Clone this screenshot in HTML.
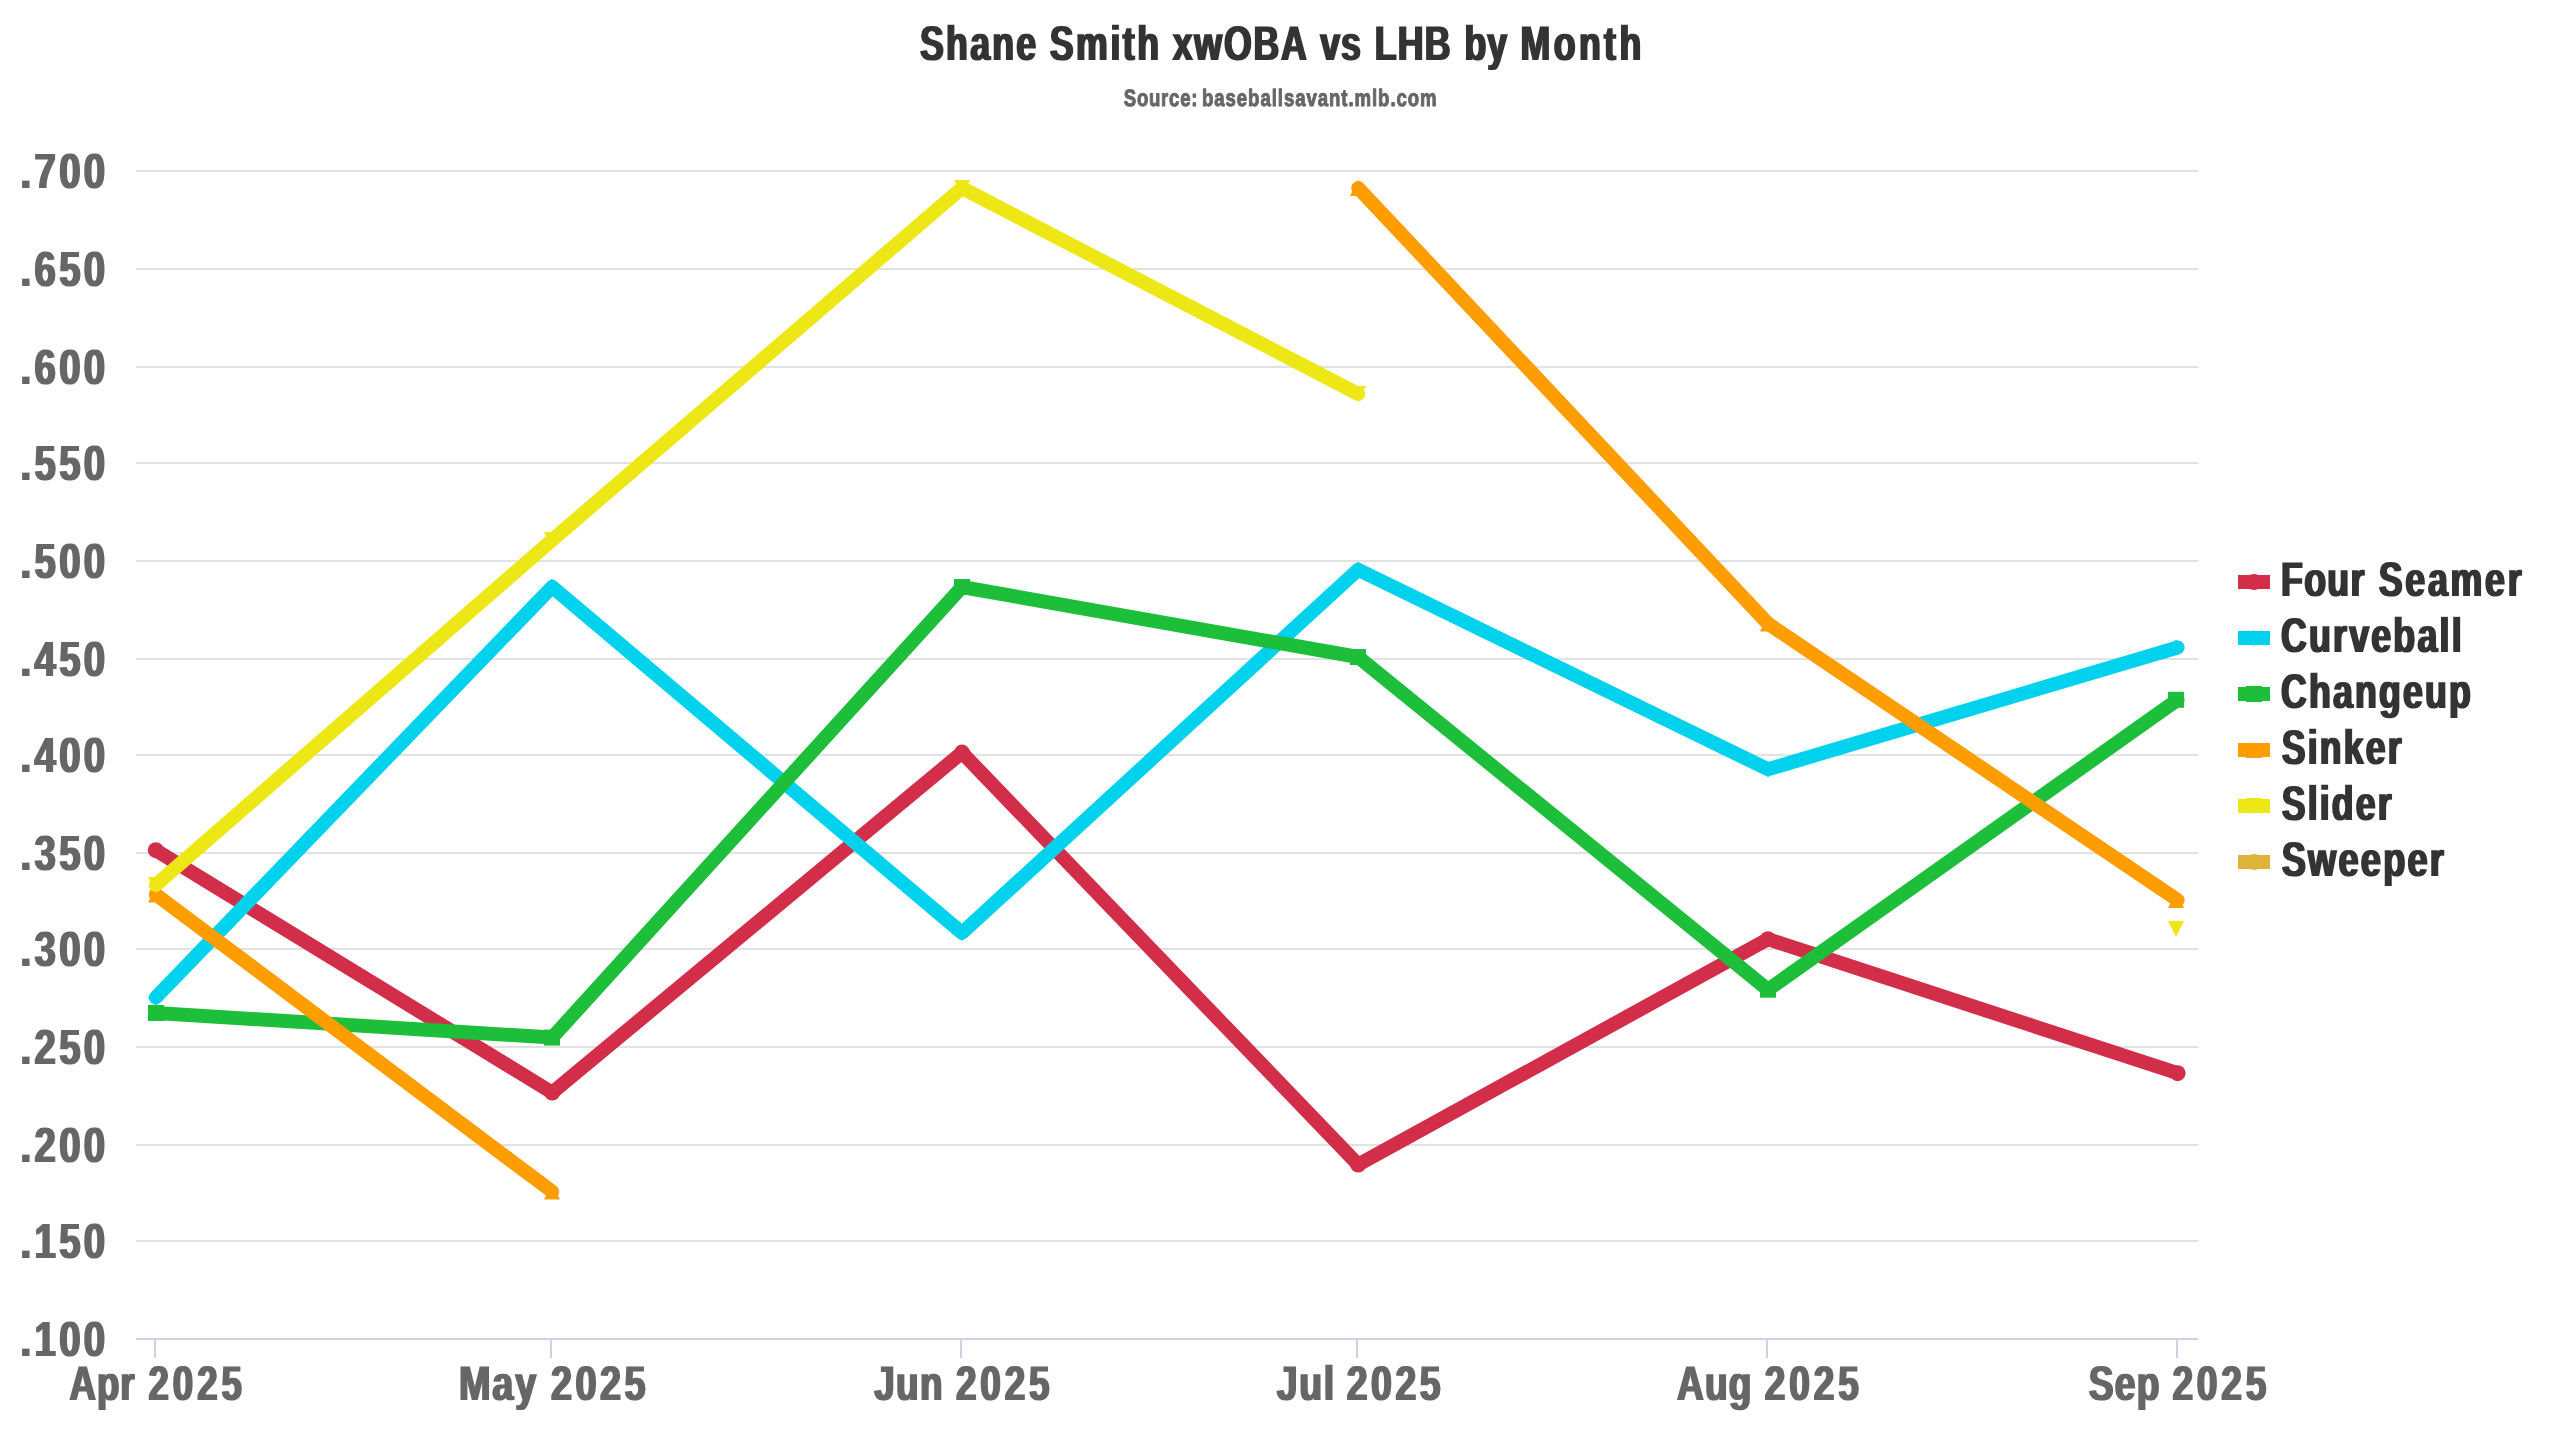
<!DOCTYPE html>
<html lang="en"><head><meta charset="utf-8"><title>Shane Smith xwOBA vs LHB by Month</title>
<style>html,body{margin:0;padding:0;background:#fff}body{width:2560px;height:1440px;overflow:hidden}svg{display:block}text{font-family:"Liberation Sans",sans-serif;font-weight:700;font-kerning:none;white-space:pre;text-rendering:geometricPrecision}</style>
</head><body>
<svg width="2560" height="1440" viewBox="0 0 2560 1440">
<defs><filter id="bx" x="-5%" y="-5%" width="110%" height="110%" color-interpolation-filters="sRGB"><feMorphology operator="dilate" radius="1 0"/></filter></defs>
<rect width="2560" height="1440" fill="#ffffff"/>
<g stroke="#e2e2e2" stroke-width="2" fill="none">
<path d="M136 171H2198"/>
<path d="M136 269H2198"/>
<path d="M136 367H2198"/>
<path d="M136 463H2198"/>
<path d="M136 561H2198"/>
<path d="M136 659H2198"/>
<path d="M136 755H2198"/>
<path d="M136 853H2198"/>
<path d="M136 949H2198"/>
<path d="M136 1047H2198"/>
<path d="M136 1145H2198"/>
<path d="M136 1241H2198"/>
</g>
<g stroke="#cbd3e5" stroke-width="2" fill="none">
<path d="M136 1339H2198"/>
<path d="M155 1339V1358"/>
<path d="M551 1339V1358"/>
<path d="M961 1339V1358"/>
<path d="M1357 1339V1358"/>
<path d="M1767 1339V1358"/>
<path d="M2177 1339V1358"/>
</g>
<g>
<path d="M155.8 850.2 L552.2 1092.6 L962.0 752.6 L1358.2 1164.6 L1768.0 939.2 L2177.6 1073.2" fill="none" stroke="#d22d49" stroke-width="14" stroke-linejoin="round" stroke-linecap="round"/>
<circle cx="155.8" cy="850.2" r="8" fill="#d22d49"/>
<circle cx="552.2" cy="1092.6" r="8" fill="#d22d49"/>
<circle cx="962.0" cy="752.6" r="8" fill="#d22d49"/>
<circle cx="1358.2" cy="1164.6" r="8" fill="#d22d49"/>
<circle cx="1768.0" cy="939.2" r="8" fill="#d22d49"/>
<circle cx="2177.6" cy="1073.2" r="8" fill="#d22d49"/>
</g>
<g>
<path d="M155.8 997.5 L552.2 586.8 L962.0 932.9 L1358.2 569.7 L1768.0 769.3 L2177.6 647.5" fill="none" stroke="#00d1ed" stroke-width="14" stroke-linejoin="round" stroke-linecap="round"/>
<path d="M156 989.5L164 997.5L156 1005.5L148 997.5Z" fill="#00d1ed"/>
<path d="M552 578.8L560 586.8L552 594.8L544 586.8Z" fill="#00d1ed"/>
<path d="M962 924.9L970 932.9L962 940.9L954 932.9Z" fill="#00d1ed"/>
<path d="M1358 561.7L1366 569.7L1358 577.7L1350 569.7Z" fill="#00d1ed"/>
<path d="M1768 761.3L1776 769.3L1768 777.3L1760 769.3Z" fill="#00d1ed"/>
<path d="M2176 639.5L2184 647.5L2176 655.5L2168 647.5Z" fill="#00d1ed"/>
</g>
<g>
<path d="M155.8 1013 L552.2 1037.6 L962.0 587 L1358.2 657 L1768.0 989.7 L2177.6 699.8" fill="none" stroke="#1dbe3a" stroke-width="14" stroke-linejoin="round" stroke-linecap="round"/>
<rect x="148" y="1005.0" width="16" height="16" fill="#1dbe3a"/>
<rect x="544" y="1029.6" width="16" height="16" fill="#1dbe3a"/>
<rect x="954" y="579.0" width="16" height="16" fill="#1dbe3a"/>
<rect x="1350" y="649.0" width="16" height="16" fill="#1dbe3a"/>
<rect x="1760" y="981.7" width="16" height="16" fill="#1dbe3a"/>
<rect x="2168" y="691.8" width="16" height="16" fill="#1dbe3a"/>
</g>
<g>
<path d="M155.8 894.5 L552.2 1191.5 M1358.2 188 L1768.0 623.6 L2177.6 900" fill="none" stroke="#fe9d00" stroke-width="14" stroke-linejoin="round" stroke-linecap="round"/>
<path d="M156 886.5L164 902.5L148 902.5Z" fill="#fe9d00"/>
<path d="M552 1183.5L560 1199.5L544 1199.5Z" fill="#fe9d00"/>
<path d="M1358 180L1366 196L1350 196Z" fill="#fe9d00"/>
<path d="M1768 615.6L1776 631.6L1760 631.6Z" fill="#fe9d00"/>
<path d="M2176 892L2184 908L2168 908Z" fill="#fe9d00"/>
</g>
<g>
<path d="M155.8 885 L552.2 540 L962.0 188 L1358.2 394 M2177.6 929.1" fill="none" stroke="#eee716" stroke-width="14" stroke-linejoin="round" stroke-linecap="round"/>
<path d="M148 877L164 877L156 893Z" fill="#eee716"/>
<path d="M544 532L560 532L552 548Z" fill="#eee716"/>
<path d="M954 180L970 180L962 196Z" fill="#eee716"/>
<path d="M1350 386L1366 386L1358 402Z" fill="#eee716"/>
<path d="M2168 921.1L2184 921.1L2176 937.1Z" fill="#eee716"/>
</g>
<g>
</g>
<rect x="2238" y="575" width="32" height="14" fill="#d22d49"/>
<circle cx="2254" cy="582" r="8" fill="#d22d49"/>
<rect x="2238" y="631" width="32" height="14" fill="#00d1ed"/>
<path d="M2254 630L2262 638L2254 646L2246 638Z" fill="#00d1ed"/>
<rect x="2238" y="687" width="32" height="14" fill="#1dbe3a"/>
<rect x="2246" y="686.0" width="16" height="16" fill="#1dbe3a"/>
<rect x="2238" y="743" width="32" height="14" fill="#fe9d00"/>
<path d="M2254 742L2262 758L2246 758Z" fill="#fe9d00"/>
<rect x="2238" y="799" width="32" height="14" fill="#eee716"/>
<path d="M2246 798L2262 798L2254 814Z" fill="#eee716"/>
<rect x="2238" y="855" width="32" height="14" fill="#ddb33a"/>
<circle cx="2254" cy="862" r="8" fill="#ddb33a"/>
<g filter="url(#bx)">
<text transform="translate(2281.01 595.50) scale(0.7367 1)" font-size="48.55" fill="#333333"><tspan x="0.00" letter-spacing="1.753">Four </tspan><tspan x="132.57" letter-spacing="3.726">Seamer</tspan></text>
<text transform="translate(2280.93 651.50) scale(0.7372 1)" font-size="48.55" fill="#333333"><tspan x="0.00" letter-spacing="2.984">Curveball</tspan></text>
<text transform="translate(2280.94 707.50) scale(0.7349 1)" font-size="48.55" fill="#333333"><tspan x="0.00" letter-spacing="2.993">Changeup</tspan></text>
<text transform="translate(2281.78 763.50) scale(0.7328 1)" font-size="48.55" fill="#333333"><tspan x="0.00" letter-spacing="3.002">Sinker</tspan></text>
<text transform="translate(2281.78 819.50) scale(0.7321 1)" font-size="48.55" fill="#333333"><tspan x="0.00" letter-spacing="3.005">Slider</tspan></text>
<text transform="translate(2281.76 875.50) scale(0.7461 1)" font-size="48.55" fill="#333333"><tspan x="0.00" letter-spacing="2.949">Sweeper</tspan></text>
<text transform="translate(919.97 59.70) scale(0.7335 1)" font-size="48.69" fill="#333333"><tspan x="0.00" letter-spacing="3.091">Shane </tspan><tspan x="176.90" letter-spacing="3.471">Smith </tspan><tspan x="344.50" letter-spacing="2.447">xwOBA </tspan><tspan x="545.74" letter-spacing="1.061">vs </tspan><tspan x="619.98" letter-spacing="1.575">LHB </tspan><tspan x="742.46" letter-spacing="1.182">by </tspan><tspan x="818.76" letter-spacing="4.639">Month</tspan></text>
<text transform="translate(20.40 188.00) scale(0.7753 1)" font-size="49.42" fill="#666666"><tspan x="0.00" letter-spacing="4.385">.700</tspan></text>
<text transform="translate(20.40 286.00) scale(0.7753 1)" font-size="49.42" fill="#666666"><tspan x="0.00" letter-spacing="4.385">.650</tspan></text>
<text transform="translate(20.40 384.00) scale(0.7753 1)" font-size="49.42" fill="#666666"><tspan x="0.00" letter-spacing="4.385">.600</tspan></text>
<text transform="translate(20.40 480.00) scale(0.7753 1)" font-size="49.42" fill="#666666"><tspan x="0.00" letter-spacing="4.385">.550</tspan></text>
<text transform="translate(20.40 578.00) scale(0.7753 1)" font-size="49.42" fill="#666666"><tspan x="0.00" letter-spacing="4.385">.500</tspan></text>
<text transform="translate(20.40 676.00) scale(0.7753 1)" font-size="49.42" fill="#666666"><tspan x="0.00" letter-spacing="4.385">.450</tspan></text>
<text transform="translate(20.40 772.00) scale(0.7753 1)" font-size="49.42" fill="#666666"><tspan x="0.00" letter-spacing="4.385">.400</tspan></text>
<text transform="translate(20.40 870.00) scale(0.7753 1)" font-size="49.42" fill="#666666"><tspan x="0.00" letter-spacing="4.385">.350</tspan></text>
<text transform="translate(20.40 966.00) scale(0.7753 1)" font-size="49.42" fill="#666666"><tspan x="0.00" letter-spacing="4.385">.300</tspan></text>
<text transform="translate(20.40 1064.00) scale(0.7753 1)" font-size="49.42" fill="#666666"><tspan x="0.00" letter-spacing="4.385">.250</tspan></text>
<text transform="translate(20.40 1162.00) scale(0.7753 1)" font-size="49.42" fill="#666666"><tspan x="0.00" letter-spacing="4.385">.200</tspan></text>
<text transform="translate(20.40 1258.00) scale(0.7753 1)" font-size="49.42" fill="#666666"><tspan x="0.00" letter-spacing="4.385">.150</tspan></text>
<text transform="translate(20.40 1356.00) scale(0.7753 1)" font-size="49.42" fill="#666666"><tspan x="0.00" letter-spacing="4.385">.100</tspan></text>
<text transform="translate(69.49 1399.75) scale(0.7519 1)" font-size="48.69" fill="#666666"><tspan x="0.00" letter-spacing="1.338">Apr </tspan><tspan x="105.05" letter-spacing="5.314">2025</tspan></text>
<text transform="translate(458.97 1399.75) scale(0.7774 1)" font-size="48.69" fill="#666666"><tspan x="0.00" letter-spacing="2.313">May </tspan><tspan x="118.30" letter-spacing="4.461">2025</tspan></text>
<text transform="translate(874.19 1399.75) scale(0.7589 1)" font-size="48.69" fill="#666666"><tspan x="0.00" letter-spacing="1.747">Jun </tspan><tspan x="107.75" letter-spacing="4.985">2025</tspan></text>
<text transform="translate(1276.68 1399.75) scale(0.7685 1)" font-size="48.69" fill="#666666"><tspan x="0.00" letter-spacing="2.214">Jul </tspan><tspan x="91.12" letter-spacing="4.597">2025</tspan></text>
<text transform="translate(1677.08 1399.75) scale(0.7610 1)" font-size="48.69" fill="#666666"><tspan x="0.00" letter-spacing="1.557">Aug </tspan><tspan x="115.16" letter-spacing="5.094">2025</tspan></text>
<text transform="translate(2088.68 1399.75) scale(0.7624 1)" font-size="48.69" fill="#666666"><tspan x="0.00" letter-spacing="1.811">Sep </tspan><tspan x="109.90" letter-spacing="4.914">2025</tspan></text>
</g>
<text transform="translate(1123.71 106.25) scale(0.7849 1)" font-size="23.69" fill="#666666" stroke="#666666" stroke-width="1.0" vector-effect="non-scaling-stroke" stroke-linejoin="round"><tspan x="0.00" letter-spacing="0.975">Source: </tspan><tspan x="99.71" letter-spacing="1.196">baseballsavant.mlb.com</tspan></text>
</svg></body></html>
